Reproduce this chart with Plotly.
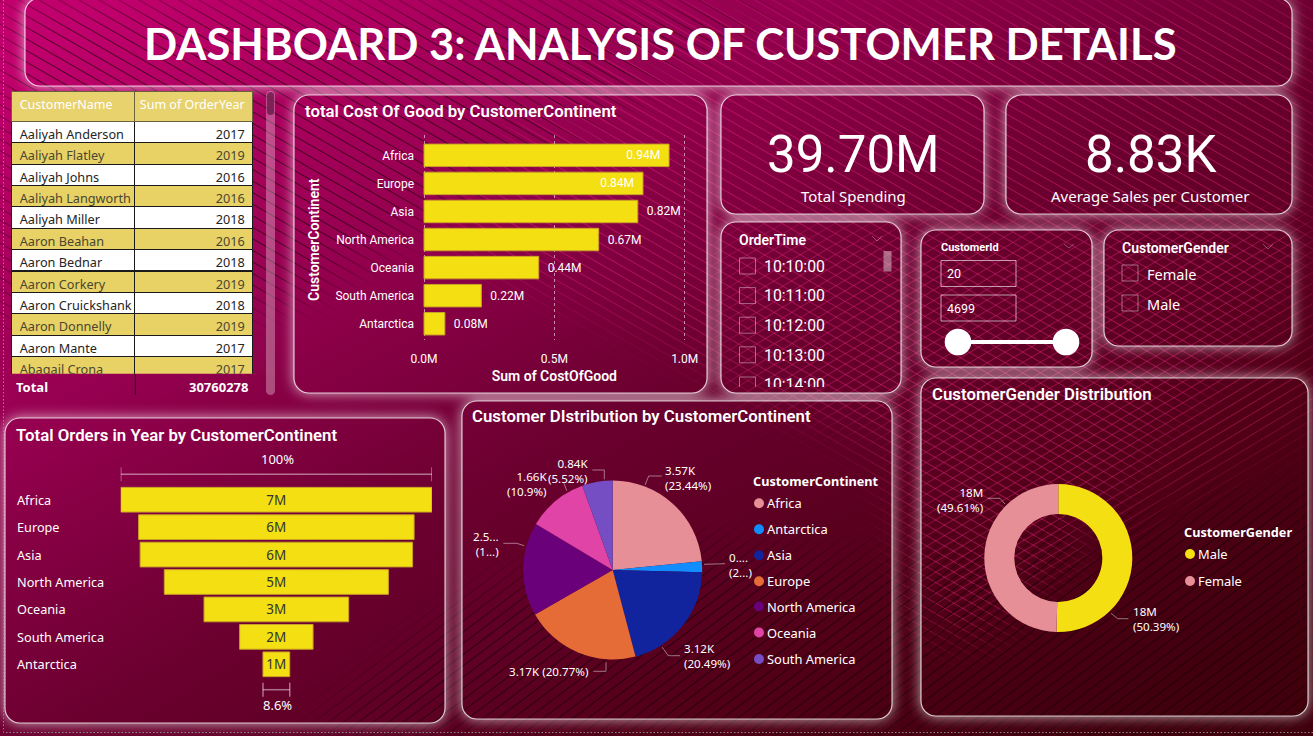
import base64
import plotly.graph_objects as go

W, H = 1313, 736

# table
customer_names = ["Aaliyah Anderson", "Aaliyah Flatley", "Aaliyah Johns", "Aaliyah Langworth", "Aaliyah Miller",
                  "Aaron Beahan", "Aaron Bednar", "Aaron Corkery", "Aaron Cruickshank", "Aaron Donnelly",
                  "Aaron Mante", "Abagail Crona"]
order_years = [2017, 2019, 2016, 2016, 2018, 2016, 2018, 2019, 2018, 2019, 2017, 2017]
table_total = "30760278"

# cost of good
cost_continents = ["Africa", "Europe", "Asia", "North America", "Oceania", "South America", "Antarctica"]
cost_values = [0.94, 0.84, 0.82, 0.67, 0.44, 0.22, 0.08]
cost_labels = ["0.94M", "0.84M", "0.82M", "0.67M", "0.44M", "0.22M", "0.08M"]

# funnel
funnel_continents = ["Africa", "Europe", "Asia", "North America", "Oceania", "South America", "Antarctica"]
funnel_values = [7.21, 6.38, 6.31, 5.19, 3.35, 1.70, 0.62]
funnel_labels = ["7M", "6M", "6M", "5M", "3M", "2M", "1M"]

# pie
pie_continents = ["Africa", "Antarctica", "Asia", "Europe", "North America", "Oceania", "South America"]
pie_values = [3.57, 0.30, 3.12, 3.17, 2.57, 1.66, 0.84]
pie_colors = ["#E68F96", "#118DFF", "#12239E", "#E66C37", "#6B007B", "#E044A7", "#744EC2"]

# donut
gender_names = ["Male", "Female"]
gender_values = [50.39, 49.61]
gender_colors = ["#F4DF12", "#E68F96"]

# slicers
order_times = ["10:10:00", "10:11:00", "10:12:00", "10:13:00", "10:14:00"]
id_range = ["20", "4699"]

YELLOW = "#F4DF12"
ROW_YELLOW = "#E8D266"
DIN = "Roboto"
SEGOE = "Noto Sans"
NB = "\u00a0"


def px(x):
    return x / W


def py(y):
    return 1 - y / H


panels = [
    (25, -2, 1292, 86), (294, 95, 707, 393), (721, 95, 984, 214), (1006, 95, 1292, 214),
    (721, 222, 901, 393), (921, 230, 1092, 367), (1104, 230, 1292, 346),
    (5, 418, 445, 723), (462, 401, 892, 719), (921, 378, 1308, 716),
]


def band(i, points, angle, gap, color, width, opacity):
    pts = " ".join(f"{x},{y}" for x, y in points)
    return (
        f'<pattern id="p{i}" width="{gap}" height="{gap}" patternUnits="userSpaceOnUse" patternTransform="rotate({angle})">'
        f'<line x1="0" y1="0" x2="{gap}" y2="0" stroke="{color}" stroke-width="{width}"/></pattern>'
        f'<mask id="m{i}"><polygon points="{pts}" fill="white" filter="url(#soft)"/></mask>',
        f'<rect width="{W}" height="{H}" fill="url(#p{i})" mask="url(#m{i})" opacity="{opacity}"/>',
    )


bands = [
    band(0, [(0, 0), (800, 0), (300, 300), (0, 330)], 30, 10, "#28000f", 1.6, 0.9),
    band(1, [(620, 0), (1313, 0), (1313, 250), (1000, 640), (920, 640), (880, 460), (640, 330), (430, 240)], 30, 9, "#E8287F", 1.5, 0.6),
    band(2, [(720, 225), (1313, 215), (1313, 420), (930, 640), (900, 430), (720, 395)], -31, 9, "#E8287F", 1.5, 0.55),
    band(3, [(300, 736), (480, 590), (620, 540), (900, 560), (1313, 480), (1313, 736)], -37, 9, "#14000a", 1.6, 0.85),
]

holes = "".join(f'<rect x="{a}" y="{b}" width="{c-a}" height="{d-b}" rx="15" fill="black"/>' for a, b, c, d in panels)
glows = "".join(f'<rect x="{a}" y="{b}" width="{c-a}" height="{d-b}" rx="15" fill="white"/>' for a, b, c, d in panels)
rims = "".join(f'<rect x="{a}" y="{b}" width="{c-a}" height="{d-b}" rx="15" fill="none" stroke="white" stroke-opacity="0.75" stroke-width="1.2"/>' for a, b, c, d in panels)

svg = f'''<svg xmlns="http://www.w3.org/2000/svg" width="{W}" height="{H}" viewBox="0 0 {W} {H}">
<defs>
<linearGradient id="bg" gradientUnits="userSpaceOnUse" x1="0" y1="0" x2="629" y2="1117">
<stop offset="0.05" stop-color="#C0006C"/><stop offset="0.3" stop-color="#960050"/>
<stop offset="0.51" stop-color="#6C0030"/><stop offset="0.75" stop-color="#520018"/>
<stop offset="0.93" stop-color="#40000C"/></linearGradient>
<filter id="soft" x="-20%" y="-20%" width="140%" height="140%"><feGaussianBlur stdDeviation="22"/></filter>
<filter id="halo" x="-20%" y="-20%" width="140%" height="140%"><feGaussianBlur stdDeviation="7"/></filter>
<mask id="outside"><rect width="{W}" height="{H}" fill="white"/>{holes}</mask>
{"".join(b[0] for b in bands)}
</defs>
<rect width="{W}" height="{H}" fill="url(#bg)"/>
{"".join(b[1] for b in bands)}
<g mask="url(#outside)" opacity="0.72"><g filter="url(#halo)">{glows}</g></g>
{rims}
<rect x="3.5" y="-2" width="{W}" height="{H-1.5}" fill="none" stroke="#8a8a8a" stroke-width="1" stroke-dasharray="1.5 2"/>
<rect x="266" y="91" width="9" height="304" rx="4.5" fill="white" fill-opacity="0.3"/>
<rect x="267" y="92" width="7" height="23" rx="3.5" fill="#6a1848" fill-opacity="0.8"/>
</svg>'''
bg_source = "data:image/svg+xml;base64," + base64.b64encode(svg.encode()).decode()

fig = go.Figure()

# table
row_fill = ["white" if i % 2 == 0 else ROW_YELLOW for i in range(len(customer_names))]
row_font = ["#252423" if i % 2 == 0 else "#4a4630" for i in range(len(customer_names))]
fig.add_trace(go.Table(
    domain=dict(x=[px(11.7), px(253.7)], y=[py(374.3), py(91.7)]),
    columnwidth=[123.6, 118.4],
    header=dict(values=["CustomerName", "Sum" + NB + "of" + NB + "OrderYear"], height=29.5, align=["left", "right"],
                fill_color="#E8D26E", line=dict(color="#6b6340", width=1),
                font=dict(family=SEGOE, size=12.5, color="white")),
    cells=dict(values=[[n.replace(" ", NB) for n in customer_names], order_years], height=21.4, align=["left", "right"],
               fill_color=[row_fill, row_fill], line=dict(color="#1a1a1a", width=1),
               font=dict(family=SEGOE, size=12.7, color=[row_font, row_font])),
))

# order time slicer list, a table so the last row clips at the panel edge
fig.add_trace(go.Table(
    domain=dict(x=[px(756), px(880)], y=[py(387), py(251)]),
    header=dict(values=[""], height=1, fill_color="rgba(0,0,0,0)", line=dict(width=0)),
    cells=dict(values=[order_times], height=29.6, align="left", fill_color="rgba(0,0,0,0)",
               line=dict(width=0), font=dict(family=DIN, size=15.8, color="white")),
))

# cost bars
cost_pos = ["inside", "inside", "outside", "outside", "outside", "outside", "outside"]
cost_text = [s + NB + NB if p == "inside" else NB + NB + s for s, p in zip(cost_labels, cost_pos)]
fig.add_trace(go.Bar(
    x=cost_values, y=cost_continents, orientation="h", xaxis="x", yaxis="y", width=0.8,
    text=cost_text, textposition=cost_pos,
    insidetextanchor="end", textangle=0, cliponaxis=False,
    textfont=dict(family=DIN, size=12, color="white"),
    marker=dict(color=YELLOW, line=dict(color="#C9A227", width=1)),
))

# funnel
fig.add_trace(go.Funnel(
    x=funnel_values, y=funnel_continents, orientation="h", xaxis="x2", yaxis="y2",
    text=funnel_labels, textinfo="text", textposition="inside", textangle=0, constraintext="none",
    textfont=dict(family=SEGOE, size=13.5, color="#333333"),
    connector=dict(visible=False), cliponaxis=False,
    marker=dict(color=YELLOW, line=dict(color="#C9A227", width=1)),
))

# pie and donut
fig.add_trace(go.Pie(
    labels=pie_continents, values=pie_values, sort=False, direction="clockwise", rotation=0,
    textinfo="none", showlegend=False, marker=dict(colors=pie_colors, line=dict(width=0)),
    domain=dict(x=[px(523.2), px(702.2)], y=[py(659.5), py(480.5)]),
))
fig.add_trace(go.Pie(
    labels=gender_names, values=gender_values, sort=False, direction="clockwise", rotation=0, hole=0.595,
    textinfo="none", showlegend=False, marker=dict(colors=gender_colors, line=dict(width=0)),
    domain=dict(x=[px(984.3), px(1132.3)], y=[py(632), py(484)]),
))

shapes = []
annotations = []


def text(x, y, s, size=13, family=SEGOE, color="white", anchor="left", weight=None, angle=0):
    # annotations carry about 2px of padding
    shift = {"left": -2, "right": 2, "center": 0}[anchor]
    annotations.append(dict(
        x=px(x + shift), y=py(y), xref="paper", yref="paper", text=s, showarrow=False, xanchor=anchor, yanchor="middle",
        align=anchor, textangle=angle, font=dict(family=family, size=size, color=color, weight=weight),
    ))


def polyline(points, color="rgba(255,255,255,0.45)", width=1):
    path = "M " + " L ".join(f"{px(x)} {py(y)}" for x, y in points)
    shapes.append(dict(type="path", path=path, xref="paper", yref="paper", line=dict(color=color, width=width)))


def box(x0, y0, x1, y1, color="rgba(255,255,255,0.4)", fill="rgba(0,0,0,0)", width=1):
    shapes.append(dict(type="rect", x0=px(x0), x1=px(x1), y0=py(y0), y1=py(y1), xref="paper", yref="paper",
                       line=dict(color=color, width=width), fillcolor=fill))


def dot(x, y, r, color):
    shapes.append(dict(type="circle", x0=px(x - r), x1=px(x + r), y0=py(y - r), y1=py(y + r), xref="paper",
                       yref="paper", line=dict(width=0), fillcolor=color))


# headings
text(660, 43, "DASHBOARD 3: ANALYSIS OF CUSTOMER DETAILS", size=43.6, family="Lato", anchor="center", weight=700)
text(305, 111, "total Cost Of Good by CustomerContinent", size=16.8, family=DIN, weight=600)
text(16, 435, "Total Orders in Year by CustomerContinent", size=16.8, family=DIN, weight=600)
text(472, 416, "Customer DIstribution by CustomerContinent", size=16.8, family=DIN, weight=600)
text(932, 394, "CustomerGender Distribution", size=16.8, family=DIN, weight=600)

# axis title sits lower than the plot centre in the reference
text(314, 240, "CustomerContinent", size=14, family=DIN, weight=600, anchor="center", angle=-90)

# table footer
text(16, 387, "Total", size=13, weight=700)
text(249, 387, table_total, size=13, weight=700, anchor="right")
polyline([(135.3, 374), (135.3, 395)], color="#1a1a1a")

# kpi cards
text(853, 154, "39.70M", size=51, family=DIN, anchor="center")
text(853, 196, "Total Spending", size=15, anchor="center")
text(1150, 154, "8.83K", size=51, family=DIN, anchor="center")
text(1150, 196, "Average Sales per Customer", size=15, anchor="center")

# order time slicer
text(739, 240, "OrderTime", size=14, family=DIN, weight=600)
for i in range(4):
    top = 258 + i * 29.6
    box(739.5, top, 755.5, top + 16)
polyline([(739.5, 387), (739.5, 377), (755.5, 377), (755.5, 387)], color="rgba(255,255,255,0.4)")
box(883.5, 251, 891.5, 271.5, color="rgba(0,0,0,0)", fill="rgba(255,255,255,0.4)")
polyline([(872, 236), (877, 241), (882, 236)], color="rgba(255,255,255,0.3)")

# customer id slicer
text(941, 247, "CustomerId", size=11, family=DIN, weight=700)
polyline([(1064, 244), (1069, 248), (1074, 244)], color="rgba(255,255,255,0.3)")
for top, label in zip([260.5, 295], id_range):
    box(941, top, 1016, top + 26, color="rgba(255,255,255,0.6)")
    text(947, top + 13.5, label, size=12.5, family=DIN)
polyline([(958, 342), (1066, 342)], color="white", width=4)
dot(958, 342, 13.3, "white")
dot(1066, 342, 13.3, "white")

# gender slicer
text(1122, 248, "CustomerGender", size=14, family=DIN, weight=600)
polyline([(1263, 244), (1268, 249), (1273, 244)], color="rgba(255,255,255,0.3)")
for top, label in zip([265, 295], ["Female", "Male"]):
    box(1122, top, 1138, top + 16)
    text(1147, top + 9, label, size=14.5)

# funnel category labels and brackets
for name in funnel_continents:
    annotations.append(dict(x=px(15), xref="paper", y=name, yref="y2", text=name, showarrow=False, xanchor="left",
                            font=dict(family=SEGOE, size=12.7, color="white")))
first, last = funnel_values[0], funnel_values[-1]
for half, y_line, y_text, label in [(first / 2, 474.3, 459, "100%"), (last / 2, 689.7, 705, "8.6%")]:
    for x0, y0, x1, y1 in [(-half, y_line, half, y_line), (-half, y_line - 7, -half, y_line + 7), (half, y_line - 7, half, y_line + 7)]:
        shapes.append(dict(type="line", xref="x2", yref="paper", x0=x0, x1=x1, y0=py(y0), y1=py(y1),
                           line=dict(color="rgba(255,255,255,0.45)", width=1.5)))
    text(277, y_text, label, size=13, anchor="center")

# pie labels
pie_text = [
    (665, 477.5, "3.57K<br>(23.44%)", "left"),
    (729, 565, "0....<br>(2...)", "left"),
    (684, 656, "3.12K<br>(20.49%)", "left"),
    (589, 671.5, "3.17K (20.77%)", "right"),
    (499, 544, "2.5...<br>(1...)", "right"),
    (546.5, 483.5, "1.66K<br>(10.9%)", "right"),
    (588, 471, "0.84K<br>(5.52%)", "right"),
]
for x, y, s, anchor in pie_text:
    text(x, y, s, size=11.6, anchor=anchor)
for line in [
    [(645, 485), (648.7, 476), (661.7, 476)],
    [(704, 564.3), (725, 563.7)],
    [(662.3, 647.3), (668.3, 655.7), (680, 655.7)],
    [(606, 662.3), (606, 671.3), (593.3, 671.3)],
    [(524.3, 545.7), (516.7, 543.3), (503.3, 543.3)],
    [(566.7, 490.7), (564, 483.3)],
    [(604.3, 479.3), (604.3, 470), (592.3, 470)],
]:
    polyline(line)

# pie legend
text(753, 481, "CustomerContinent", size=12.7, weight=700)
for name, color, y in zip(pie_continents, pie_colors, [503.3, 529.3, 555.3, 581.3, 606.5, 632.5, 659]):
    dot(759, y, 5, color)
    text(767, y, name, size=12.9)

# donut labels and legend
text(1133, 618.5, "18M<br>(50.39%)", size=11.6)
text(983.5, 500, "18M<br>(49.61%)", size=11.6, anchor="right")
polyline([(1111, 613.3), (1117.7, 618.7), (1128.3, 618.7)])
polyline([(1005, 504), (1000, 498.3), (987.7, 498.3)])
text(1184, 532, "CustomerGender", size=12.7, weight=700)
for name, color, y in zip(gender_names, gender_colors, [554, 581]):
    dot(1190, y, 5, color)
    text(1198, y, name, size=12.9)

fig.update_layout(
    width=W, height=H, margin=dict(l=0, r=0, t=0, b=0, autoexpand=False), showlegend=False, autosize=False,
    paper_bgcolor="#6C0030", plot_bgcolor="rgba(0,0,0,0)", funnelgap=0.1, bargap=0.2,
    shapes=shapes, annotations=annotations,
    images=[dict(source=bg_source, xref="paper", yref="paper", x=0, y=1, sizex=1, sizey=1,
                 xanchor="left", yanchor="top", sizing="stretch", layer="below")],
    xaxis=dict(domain=[px(421.4), px(687.3)], range=[-0.01, 1.01], tickvals=[0, 0.5, 1], ticktext=["0.0M", "0.5M", "1.0M"],
               showgrid=True, griddash="dot", gridcolor="rgba(255,255,255,0.55)", gridwidth=1, zeroline=False,
               ticks="outside", ticklen=8, tickcolor="rgba(0,0,0,0)", showline=False,
               tickfont=dict(family=DIN, size=12, color="white"),
               title=dict(text="Sum of CostOfGood", standoff=5, font=dict(family=DIN, size=14, color="white", weight=600))),
    yaxis=dict(domain=[py(340), py(135)], range=[6.58, -0.725], anchor="x", showgrid=False, zeroline=False,
               ticks="outside", ticklen=4, tickcolor="rgba(0,0,0,0)", showline=False,
               tickfont=dict(family=DIN, size=12, color="white")),
    xaxis2=dict(domain=[px(120.7), px(432)], range=[-first / 2, first / 2], anchor="y2", visible=False),
    yaxis2=dict(domain=[py(678), py(486)], range=[6.5, -0.5], anchor="x2", visible=False),
)

fig.write_html("out.html", config=dict(displayModeBar=False),
               post_script="document.body.style.margin='0';document.body.style.overflow='hidden';")
